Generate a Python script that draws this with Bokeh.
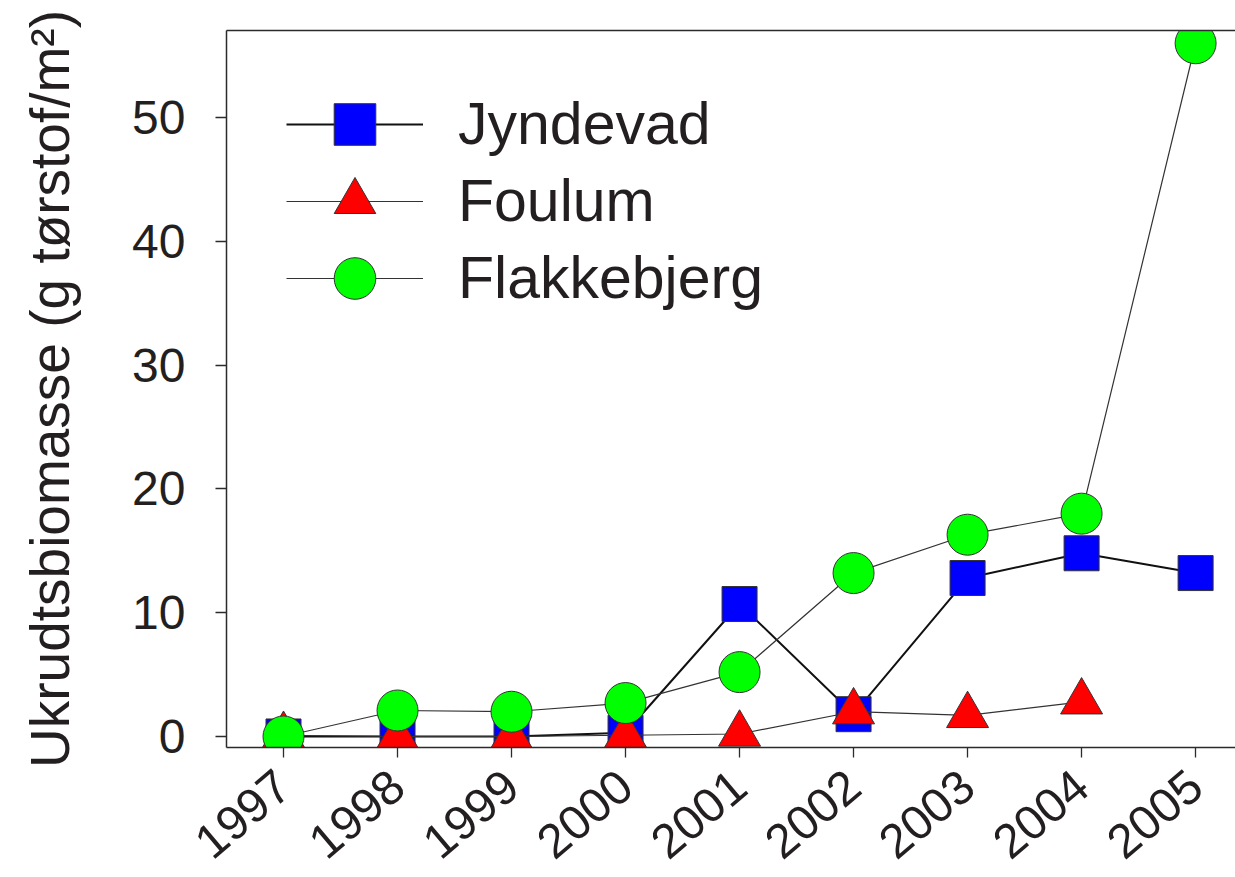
import math
from bokeh.plotting import figure
from bokeh.models import Range1d, LinearAxis, FixedTicker, Legend, LegendItem
from bokeh.embed import file_html
from bokeh.resources import INLINE

# ---- data ----
years = [1997, 1998, 1999, 2000, 2001, 2002, 2003, 2004, 2005]
year_labels = ["1997", "1998", "1999", "2000", "2001", "2002", "2003", "2004", "2005"]
jyndevad = [0.0, 0.0, 0.0, 0.3, 10.7, 1.8, 12.8, 14.8, 13.2]
foulum_years = [1997, 1998, 1999, 2000, 2001, 2002, 2003, 2004]
foulum = [0.1, 0.0, 0.0, 0.1, 0.2, 2.0, 1.7, 2.8]
flakkebjerg = [0.0, 2.1, 2.0, 2.7, 5.2, 13.2, 16.3, 18.0, 56.0]
y_ticks = [0, 10, 20, 30, 40, 50]
series_names = ["Jyndevad", "Foulum", "Flakkebjerg"]
y_label = "Ukrudtsbiomasse (g tørstof/m²)"

FONT = "Liberation Sans"
TXT = "#231f20"
AX = "#2b2b2b"

p = figure(width=1235, height=877, output_backend="svg", toolbar_location=None,
           x_range=Range1d(1996.5, 2005.35), y_range=Range1d(-0.89, 57.03),
           min_border_left=226, min_border_top=30, min_border_bottom=130,
           min_border_right=0)
p.outline_line_color = None
p.xgrid.visible = False
p.ygrid.visible = False
p.background_fill_color = "white"
p.border_fill_color = "white"

# axes
for ax in (p.xaxis[0], p.yaxis[0]):
    ax.axis_line_color = AX
    ax.axis_line_width = 1.5
    ax.major_tick_line_color = AX
    ax.major_tick_line_width = 1.3
    ax.major_tick_in = 0
    ax.minor_tick_line_color = None
    ax.major_label_text_font = FONT
    ax.major_label_text_color = TXT

p.xaxis.ticker = FixedTicker(ticks=years)
p.xaxis.major_label_overrides = {y: l for y, l in zip(years, year_labels)}
p.xaxis.major_tick_out = 10
p.xaxis.major_label_text_font_size = "48px"
p.xaxis.major_label_orientation = 0.70
p.xaxis.major_label_standoff = 22

p.yaxis.ticker = FixedTicker(ticks=y_ticks)
p.yaxis.major_tick_out = 11
p.yaxis.major_label_text_font_size = "48px"
p.yaxis.major_label_standoff = 30
p.yaxis.axis_label = y_label
p.yaxis.axis_label_text_font = FONT
p.yaxis.axis_label_text_font_size = "55px"
p.yaxis.axis_label_text_font_style = "normal"
p.yaxis.axis_label_text_color = TXT
p.yaxis.axis_label_standoff = 48

top_axis = LinearAxis(ticker=FixedTicker(ticks=[]), axis_line_color=AX,
                      axis_line_width=1.5, major_tick_line_color=None,
                      minor_tick_line_color=None, major_label_text_color=None)
p.add_layout(top_axis, "above")

# series
l1 = p.line(years, jyndevad, line_color="#111111", line_width=2)
m1 = p.scatter(years, jyndevad, marker="square", size=35, fill_color="#0000ff",
               line_color="#333333", line_width=1)
l2 = p.line(foulum_years, foulum, line_color="#333333", line_width=1.2)
m2 = p.scatter(foulum_years, foulum, marker="triangle", size=42, fill_color="#ff0000",
               line_color="#333333", line_width=1)
l3 = p.line(years, flakkebjerg, line_color="#333333", line_width=1.2)
m3 = p.scatter(years, flakkebjerg, marker="circle", size=41, fill_color="#00ff00",
               line_color="#333333", line_width=1)

# one legend per row so the rows can sit 77px apart with large markers
rows = [(series_names[0], [l1, m1], 571),
        (series_names[1], [l2, m2], 494),
        (series_names[2], [l3, m3], 417)]
for name, rends, vy in rows:
    lg = Legend(items=[LegendItem(label=name, renderers=rends)],
                location=(60, vy), orientation="vertical",
                glyph_width=137, glyph_height=104, label_height=104, spacing=0,
                label_standoff=35, padding=0, margin=0,
                label_text_font=FONT, label_text_font_size="59px",
                label_text_color=TXT, label_text_baseline="middle",
                border_line_color=None, background_fill_alpha=0)
    p.add_layout(lg, "center")

open("out.html", "w").write(file_html(p, INLINE))
